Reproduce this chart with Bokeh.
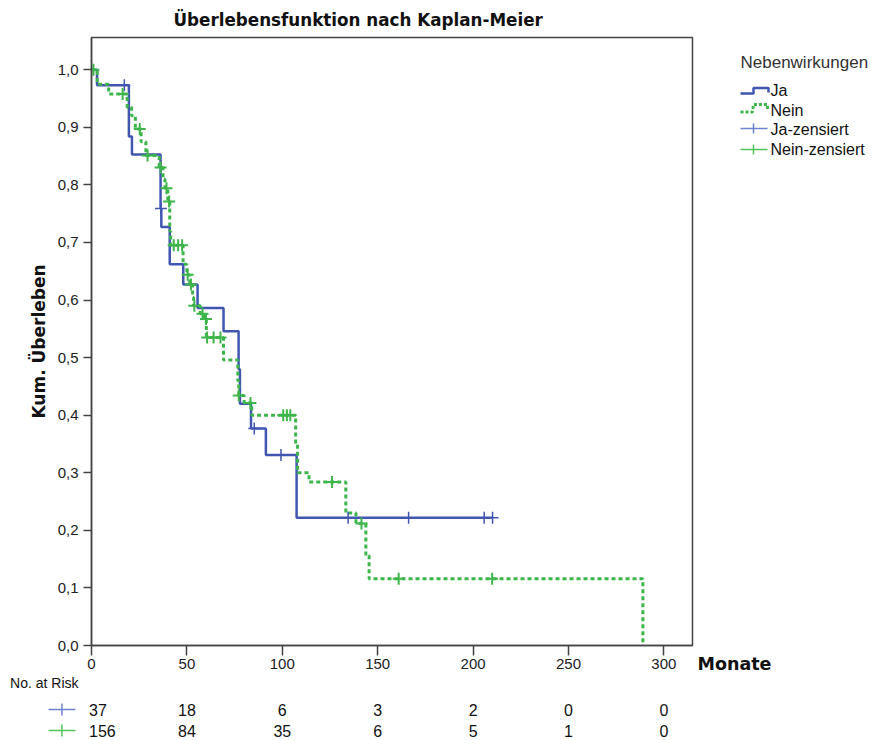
from bokeh.plotting import figure
from bokeh.models import Range1d, FixedTicker, ColumnDataSource
from bokeh.layouts import column, row
from bokeh.embed import file_html
from bokeh.resources import INLINE
from bokeh.core.properties import value

# ---------------- data ----------------
title_text = "Überlebensfunktion nach Kaplan-Meier"
y_label = "Kum. Überleben"
x_label = "Monate"
legend_title = "Nebenwirkungen"
legend_labels = ["Ja", "Nein", "Ja-zensiert", "Nein-zensiert"]

# Ja (Nebenwirkungen) - step curve
ja_t = [0, 2.9, 19.6, 21.2, 36.2, 36.6, 41, 48.1, 55.6, 69.2, 77.1, 77.8, 83.6, 91.4, 107.5, 210.2]
ja_s = [1.0, 0.973, 0.884, 0.853, 0.759, 0.727, 0.662, 0.627, 0.586, 0.546, 0.48, 0.42, 0.377, 0.331, 0.222, 0.222]
ja_cens = [17.2, 36.4, 85.3, 99.3, 134.5, 166.2, 205.8, 210.2]

# Nein - step curve
nein_t = [0, 3, 9, 18.7, 21, 23, 26, 28.5, 35.5, 37.5, 38.5, 40, 41, 41.5, 48, 50, 51.5, 53, 53.5, 57, 59,
          60.2, 69.2, 76.7, 77.2, 80, 84, 107, 108, 114, 133.3, 138.6, 143.8, 145.5, 289]
nein_s = [1.0, 0.975, 0.958, 0.935, 0.92, 0.897, 0.875, 0.851, 0.83, 0.81, 0.794, 0.771, 0.72, 0.695, 0.662,
          0.644, 0.627, 0.605, 0.59, 0.576, 0.567, 0.535, 0.496, 0.46, 0.434, 0.421, 0.40, 0.35, 0.30, 0.284,
          0.23, 0.212, 0.156, 0.116, 0.0]
nein_cens = [1.0, 16.3, 25.3, 29.4, 36.2, 39.3, 40.7, 43.1, 45.4, 47.5, 50.4, 52.1, 53.9, 58.2, 60.0, 60.6,
             64.0, 67.6, 77.2, 83.3, 100.5, 102.4, 104.2, 126.1, 141.5, 161.0, 210.0]

x_ticks = [0, 50, 100, 150, 200, 250, 300]
y_ticks = [0.0, 0.1, 0.2, 0.3, 0.4, 0.5, 0.6, 0.7, 0.8, 0.9, 1.0]
y_tick_labels = ["0,0", "0,1", "0,2", "0,3", "0,4", "0,5", "0,6", "0,7", "0,8", "0,9", "1,0"]

risk_title = "No. at Risk"
risk_t = [0, 50, 100, 150, 200, 250, 300]
ja_risk = [37, 18, 6, 3, 2, 0, 0]
nein_risk = [156, 84, 35, 6, 5, 1, 0]

# ---------------- style ----------------
BLUE = "#4056b0"
GREEN = "#3db54a"
BLUE_L = "#6f82cf"
GREEN_L = "#52c45e"
AXIS = "#444444"
FONT = "Liberation Sans"
BFONT = "DejaVu Sans"

W_TOTAL = 872
LEFT, TOP, BOTTOM = 91, 36, 29
FRAME_W, FRAME_H = 601, 609
A_W = LEFT + FRAME_W + 2
A_H = TOP + FRAME_H + BOTTOM
R_W = W_TOTAL - A_W
X_END = 315.0
Y_END = 1.056


def surv_at(ts, ss, t):
    v = ss[0]
    for ti, si in zip(ts, ss):
        if ti <= t:
            v = si
    return v


# ---------------- main plot ----------------
p = figure(width=A_W, height=A_H,
           x_range=Range1d(0, X_END), y_range=Range1d(0, Y_END),
           min_border_left=LEFT, min_border_right=2, min_border_top=TOP, min_border_bottom=BOTTOM,
           output_backend="svg", toolbar_location=None, title=title_text)
p.frame_align = False

p.title.align = "left"
p.title.offset = 82
p.title.standoff = 15
p.title.text_font = BFONT
p.title.text_font_size = "16.75px"
p.title.text_font_style = "bold"
p.title.text_color = "#111111"

p.grid.visible = False
p.outline_line_color = AXIS
p.outline_line_width = 1.5
p.outline_line_alpha = 1.0

p.xaxis.ticker = FixedTicker(ticks=x_ticks)
p.yaxis.ticker = FixedTicker(ticks=y_ticks)
p.yaxis.major_label_overrides = {v: s for v, s in zip(y_ticks, y_tick_labels)}
for ax in (p.xaxis, p.yaxis):
    ax.axis_line_color = AXIS
    ax.axis_line_width = 1.5
    ax.major_tick_line_color = AXIS
    ax.major_tick_line_width = 1.5
    ax.minor_tick_line_color = None
    ax.major_tick_in = 0
    ax.major_label_text_font = FONT
    ax.major_label_text_font_size = "15px"
    ax.major_label_text_color = "#222222"
p.xaxis.major_tick_out = 10
p.xaxis.major_label_standoff = 3
p.yaxis.major_tick_out = 8
p.yaxis.major_label_standoff = 5
p.yaxis.axis_label = y_label
p.yaxis.axis_label_text_font = BFONT
p.yaxis.axis_label_text_font_size = "17px"
p.yaxis.axis_label_text_font_style = "bold"
p.yaxis.axis_label_text_color = "#111111"
p.yaxis.axis_label_standoff = 6

src_ja = ColumnDataSource(dict(t=ja_t, s=ja_s))
src_nein = ColumnDataSource(dict(t=nein_t, s=nein_s))
p.step(x="t", y="s", source=src_ja, mode="after", line_color=BLUE, line_width=2.5)
p.step(x="t", y="s", source=src_nein, mode="after", line_color=GREEN, line_width=3, line_dash="4 3")

ja_cy = [surv_at(ja_t, ja_s, t) for t in ja_cens]
nein_cy = [surv_at(nein_t, nein_s, t) for t in nein_cens]
p.scatter(ja_cens, ja_cy, marker="cross", size=12, line_color=BLUE, line_width=1.5)
p.scatter(nein_cens, nein_cy, marker="cross", size=12, line_color=GREEN, line_width=2)

# ---------------- right panel: legend + x label (pixel coordinates) ----------------
r = figure(width=R_W, height=A_H, x_range=Range1d(0, R_W), y_range=Range1d(A_H, 0),
           min_border=0, output_backend="svg", toolbar_location=None,
           x_axis_location=None, y_axis_location=None, outline_line_color=None)
r.frame_align = False
r.grid.visible = False
ox = A_W  # page x of this panel's left edge

r.text(x=[740 - ox], y=[62], text=[legend_title], text_font=value(FONT), text_font_size="17px",
       text_baseline="middle", text_align="left", text_color="#333333")
# step-shaped line icons
r.line(x=[740 - ox, 753 - ox, 753 - ox, 768 - ox, 768 - ox], y=[93, 93, 87.5, 87.5, 92],
       line_color=BLUE, line_width=2.5)
r.line(x=[740 - ox, 752 - ox, 753 - ox, 767 - ox, 767 - ox], y=[111.5, 111.5, 104, 104, 109],
       line_color=GREEN, line_width=3, line_dash="3 2")
# cross icons
r.segment(x0=[740 - ox, 740 - ox], y0=[128, 149], x1=[767 - ox, 767 - ox], y1=[128, 149],
          line_color=[BLUE_L, GREEN_L], line_width=1.5)
r.segment(x0=[753 - ox, 753 - ox], y0=[123, 144], x1=[753 - ox, 753 - ox], y1=[133, 154],
          line_color=[BLUE_L, GREEN_L], line_width=1.5)
r.text(x=[770 - ox] * 4, y=[90, 110, 129, 149], text=legend_labels, text_font=value(FONT),
       text_font_size="16px", text_baseline="middle", text_align="left", text_color="#111111")

r.text(x=[697 - ox], y=[663], text=[x_label], text_font=value(BFONT), text_font_size="17.5px",
       text_font_style="bold", text_baseline="middle", text_align="left", text_color="#111111")

# ---------------- risk table ----------------
PX = FRAME_W / X_END
B_H = 740 - A_H
ROW_PX = 21
ROW1 = 35  # local pixel of first row
b = figure(width=W_TOTAL, height=B_H,
           x_range=Range1d(-LEFT / PX, (W_TOTAL - LEFT) / PX),
           y_range=Range1d(-(B_H - ROW1 - ROW_PX) / ROW_PX, 1 + ROW1 / ROW_PX),
           min_border=0, output_backend="svg", toolbar_location=None,
           x_axis_location=None, y_axis_location=None, outline_line_color=None)
b.frame_align = False
b.grid.visible = False

b.text(x=[-42.7], y=[1 + 27 / ROW_PX], text=[risk_title], text_font=value(FONT),
       text_font_size="14px", text_baseline="middle", text_align="left", text_color="#111111")

for rw, counts in ((1, ja_risk), (0, nein_risk)):
    b.text(x=[risk_t[0] - 1.3], y=[rw], text=[str(counts[0])], text_font=value(FONT),
           text_font_size="16px", text_baseline="middle", text_align="left", text_color="#111111")
    b.text(x=risk_t[1:], y=[rw] * (len(risk_t) - 1), text=[str(c) for c in counts[1:]],
           text_font=value(FONT), text_font_size="16px", text_baseline="middle",
           text_align="center", text_color="#111111")

b.segment(x0=[-22.5, -22.5], y0=[1, 0], x1=[-8.4, -8.4], y1=[1, 0],
          line_color=[BLUE_L, GREEN_L], line_width=1.5)
b.segment(x0=[-15.5, -15.5], y0=[1.28, 0.28], x1=[-15.5, -15.5], y1=[0.72, -0.28],
          line_color=[BLUE_L, GREEN_L], line_width=1.5)

layout = column(row(p, r), b)
open("out.html", "w").write(file_html(layout, INLINE))
